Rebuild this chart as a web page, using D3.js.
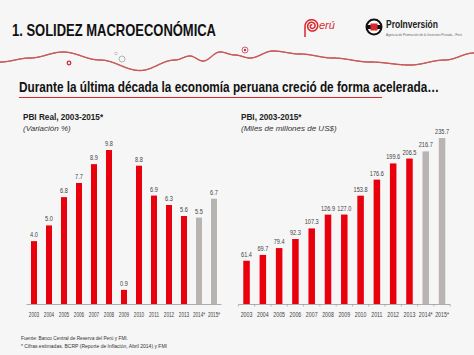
<!DOCTYPE html>
<html><head><meta charset="utf-8">
<script src="https://cdn.jsdelivr.net/npm/d3@7"></script>
<style>
html,body{margin:0;padding:0;background:#f6f6f6;}
svg{display:block;}
text{font-family:"Liberation Sans",Arial,sans-serif;}
</style></head>
<body>
<svg id="c" width="474" height="355"></svg>
<script>
// ---- data ----
const years = ["2003","2004","2005","2006","2007","2008","2009","2010","2011","2012","2013","2014*","2015*"];
const realGrowth = [4.0,5.0,6.8,7.7,8.9,9.8,0.9,8.8,6.9,6.3,5.6,5.5,6.7];
const gdpUSD = [61.4,69.7,79.4,92.3,107.3,126.9,127.0,153.8,176.6,199.6,206.5,216.7,235.7];
const estimated = [false,false,false,false,false,false,false,false,false,false,false,true,true];

const RED = "#e8000c", GREY = "#b8b4b1", TXT = "#444";
const svg = d3.select("#c");
svg.append("rect").attr("width",474).attr("height",355).attr("fill","#f6f6f6");

function condense(sel, f){
  sel.each(function(){
    const w = this.getComputedTextLength();
    d3.select(this).attr("textLength", w*f).attr("lengthAdjust","spacingAndGlyphs");
  });
}

// ---- header ----
svg.append("text").attr("x",12).attr("y",36)
  .attr("font-size",17).attr("font-weight","bold").attr("fill","#111")
  .attr("textLength",204).attr("lengthAdjust","spacingAndGlyphs")
  .text("1. SOLIDEZ MACROECONÓMICA");

// decorative wave: smooth cosine interpolation between control points, drawn as dense dots
const wavePts = [[0,62],[30,58],[63,52],[100,60],[140,70.5],[175,60],[190,56],[203,61],[220,52],[235,55],[250,58],[273,51],[300,54],[333,58],[370,62],[410,65],[445,60],[474,53]];
function waveY(xv){
  for(let i=0;i<wavePts.length-1;i++){
    const a = wavePts[i], b = wavePts[i+1];
    if(xv>=a[0] && xv<=b[0]){
      const t = (xv-a[0])/(b[0]-a[0]);
      const e = (1-Math.cos(Math.PI*t))/2;
      return a[1] + (b[1]-a[1])*e;
    }
  }
  return wavePts[wavePts.length-1][1];
}
const waveSamples = d3.range(0, 474.5, 0.5).map(xv => [xv, waveY(xv)]);
svg.append("g").selectAll("circle").data(waveSamples).join("circle")
  .attr("cx",d=>d[0]).attr("cy",d=>d[1]).attr("r",0.7).attr("fill","#c65a5a");
svg.append("circle").attr("cx",69).attr("cy",63).attr("r",1.8).attr("fill","none").attr("stroke","#d0303a").attr("stroke-width",1.3);
svg.append("circle").attr("cx",116).attr("cy",53.5).attr("r",1.3).attr("fill","none").attr("stroke","#bbb").attr("stroke-width",0.8);
svg.append("circle").attr("cx",122).attr("cy",59).attr("r",3).attr("fill","none").attr("stroke","#aaa").attr("stroke-width",0.9);
svg.append("circle").attr("cx",245).attr("cy",50).attr("r",3).attr("fill","none").attr("stroke","#d06070").attr("stroke-width",1);
svg.append("circle").attr("cx",245).attr("cy",50).attr("r",1.2).attr("fill","#d03040");

// Perú logo (spiral)
const spiralPts = [[305,37],[305,26]].concat(d3.range(0, 2.3*Math.PI*2, 0.2).map(t => {
  const r = 7 - t*0.42;
  return [312 + r*Math.cos(t+Math.PI), 26 + r*Math.sin(t+Math.PI)];
}));
svg.append("path").attr("d", d3.line()(spiralPts)).attr("fill","none").attr("stroke","#d8262e").attr("stroke-width",1.5);
svg.append("text").attr("x",319).attr("y",29).attr("font-size",11).attr("font-style","italic")
  .attr("fill","#d8262e").attr("font-family","DejaVu Serif,serif").text("erú");

// ProInversión logo
const lg = svg.append("g");
lg.append("circle").attr("cx",374).attr("cy",27).attr("r",7.5).attr("fill","#fff").attr("stroke","#111").attr("stroke-width",2);
lg.append("rect").attr("x",366).attr("y",25).attr("width",16).attr("height",4).attr("fill","#111");
lg.append("rect").attr("x",370.5).attr("y",23.5).attr("width",7).attr("height",7).attr("fill","#d8262e");
lg.append("text").attr("x",386).attr("y",28).attr("font-size",10.5).attr("font-weight","bold")
  .attr("fill","#222").attr("textLength",52).attr("lengthAdjust","spacingAndGlyphs").text("ProInversión");
lg.append("text").attr("x",386).attr("y",36).attr("font-size",2.6).attr("fill","#666")
  .attr("textLength",76).attr("lengthAdjust","spacingAndGlyphs").text("Agencia de Promoción de la Inversión Privada - Perú");

// subtitle
svg.append("text").attr("x",19).attr("y",92)
  .attr("font-size",14).attr("font-weight","bold").attr("fill","#111")
  .attr("textLength",420).attr("lengthAdjust","spacingAndGlyphs")
  .text("Durante la última década la economía peruana creció de forma acelerada…");
svg.append("line").attr("x1",19).attr("x2",382).attr("y1",97.5).attr("y2",97.5).attr("stroke","#d8262e").attr("stroke-width",1.2);

// ---- chart builder ----
function chart(opts){
  const g = svg.append("g");
  const x = d3.scaleBand().domain(years).range(opts.xr).paddingInner(opts.pad).paddingOuter(opts.pad/2);
  const y = d3.scaleLinear().domain([0, d3.max(opts.values)]).range([opts.base, opts.top]);
  g.append("text").attr("x",opts.tx).attr("y",120).attr("font-size",8.2).attr("font-weight","bold").attr("fill","#222").text(opts.title);
  g.append("text").attr("x",opts.tx).attr("y",130.5).attr("font-size",8).attr("font-style","italic").attr("fill","#333").text(opts.sub);
  const axis = d3.axisBottom(x).tickSize(0).tickPadding(0);
  const ag = g.append("g").attr("transform",`translate(0,${opts.base})`).call(axis);
  ag.select(".domain").attr("stroke","#9a9a9a").attr("stroke-width",0.8).attr("d",`M${opts.xr[0]},0.5H${opts.xr[1]}`);
  const lbl = ag.selectAll("text").attr("font-size",opts.lfs).attr("fill",TXT).attr("dy",0).attr("y",12.5);
  condense(lbl, opts.lf);
  if(opts.ticks){
    const half = (x.step()-x.bandwidth())/2;
    const bounds = years.map(d=>x(d)-half).concat([x(years[years.length-1])+x.bandwidth()+half]);
    ag.selectAll("line.sep").data(bounds).join("line").attr("class","sep")
      .attr("x1",d=>d).attr("x2",d=>d)
      .attr("y1",0.5).attr("y2",2.5).attr("stroke","#999").attr("stroke-width",0.7);
  }
  g.selectAll("rect.bar").data(opts.values).join("rect").attr("class","bar")
    .attr("x",(d,i)=>x(years[i])).attr("width",x.bandwidth())
    .attr("y",d=>y(d)).attr("height",d=>opts.base-y(d))
    .attr("fill",(d,i)=>estimated[i]?GREY:RED);
  const vals = g.selectAll("text.val").data(opts.values).join("text").attr("class","val")
    .attr("x",(d,i)=>x(years[i])+x.bandwidth()/2).attr("y",d=>y(d)-4)
    .attr("text-anchor","middle").attr("font-size",6.6).attr("fill",TXT)
    .text(d=>d.toFixed(1));
  condense(vals, 0.85);
}

chart({values:realGrowth, xr:[26.5,221.5], pad:0.6, base:304, top:150,
  title:"PBI Real, 2003-2015*", sub:"(Variación %)", tx:23, ticks:false, lf:0.74, lfs:6.3});
chart({values:gdpUSD, xr:[238.4,450.2], pad:0.6, base:304, top:138,
  title:"PBI, 2003-2015*", sub:"(Miles de millones de US$)", tx:241, ticks:true, lf:0.8, lfs:6.6});

// footnotes
svg.append("text").attr("x",21).attr("y",340).attr("font-size",5.6).attr("fill","#333")
  .attr("textLength",107).attr("lengthAdjust","spacingAndGlyphs")
  .text("Fuente: Banco Central de Reserva del Perú y FMI.");
svg.append("text").attr("x",21).attr("y",348).attr("font-size",5.6).attr("fill","#333")
  .attr("textLength",146).attr("lengthAdjust","spacingAndGlyphs")
  .text("* Cifras estimadas. BCRP (Reporte de Inflación, Abril 2014) y FMI");
</script>
</body></html>
